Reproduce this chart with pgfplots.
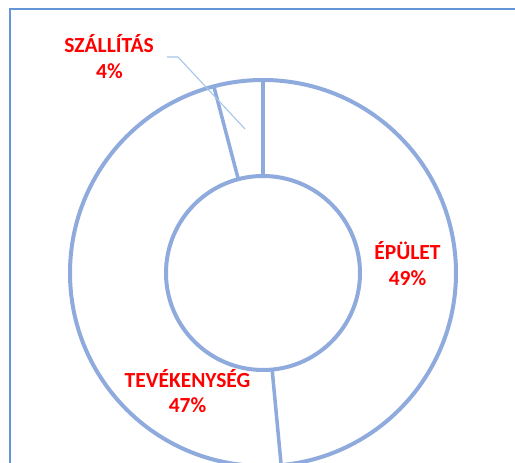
\documentclass[border=0pt]{standalone}
\usepackage{pgfplots}
\pgfplotsset{compat=1.18}
\usepackage{pgfplotstable}
\usepackage{fontspec}
\setmainfont{Carlito}
\definecolor{ring}{RGB}{143,170,220}
\definecolor{frameblue}{RGB}{100,150,215}
\definecolor{leader}{RGB}{165,198,232}
\pgfplotstableread{
label value
EPULET 48.5
TEVEKENYSEG 47.4
SZALLITAS 4.1
}\shares
\pgfplotstablegetelem{0}{value}\of\shares \let\va\pgfplotsretval
\pgfplotstablegetelem{1}{value}\of\shares \let\vb\pgfplotsretval
\pgfplotstablegetelem{2}{value}\of\shares \let\vc\pgfplotsretval
\pgfmathsetmacro\angA{90}
\pgfmathsetmacro\angB{90-3.6*\va}
\pgfmathsetmacro\angC{\angB-3.6*\vb}
\def\cx{263}
\def\cy{190}
\def\ro{193}
\def\ri{97}
\begin{document}
\begin{tikzpicture}
\begin{axis}[scale only axis, width=515pt, height=463pt,
  xmin=0, xmax=515, ymin=0, ymax=463, hide axis, clip=true]
\path[draw=frameblue, line width=2pt] (axis cs:10,-5) -- (axis cs:10,453.5) -- (axis cs:514.5,453.5);
\draw[ring, line width=4pt] (axis cs:\cx,\cy) circle[radius=\ro];
\draw[ring, line width=4pt] (axis cs:\cx,\cy) circle[radius=\ri];
\draw[ring, line width=3.5pt] (axis cs:{\cx+\ri*cos(\angA)},{\cy+\ri*sin(\angA)}) -- (axis cs:{\cx+\ro*cos(\angA)},{\cy+\ro*sin(\angA)});
\draw[ring, line width=3.5pt] (axis cs:{\cx+\ri*cos(\angB)},{\cy+\ri*sin(\angB)}) -- (axis cs:{\cx+\ro*cos(\angB)},{\cy+\ro*sin(\angB)});
\draw[ring, line width=3.5pt] (axis cs:{\cx+\ri*cos(\angC)},{\cy+\ri*sin(\angC)}) -- (axis cs:{\cx+\ro*cos(\angC)},{\cy+\ro*sin(\angC)});
\draw[leader, line width=1.1pt] (axis cs:167,406) -- (axis cs:178,406) -- (axis cs:245,334);
\tikzset{lab/.style={text=red, anchor=base, inner sep=0pt, font=\bfseries\fontsize{21.5}{26.5}\selectfont}}
\node[lab] at (axis cs:109,410) {SZÁLLÍTÁS};
\node[lab] at (axis cs:109.5,384) {4\%};
\node[lab] at (axis cs:407.5,203) {ÉPÜLET};
\node[lab] at (axis cs:407.5,177.3) {49\%};
\node[lab] at (axis cs:187.5,75) {TEVÉKENYSÉG};
\node[lab] at (axis cs:187.5,50) {47\%};
\end{axis}
\pgfresetboundingbox
\useasboundingbox (0,0) rectangle (515pt,463pt);
\end{tikzpicture}
\end{document}
